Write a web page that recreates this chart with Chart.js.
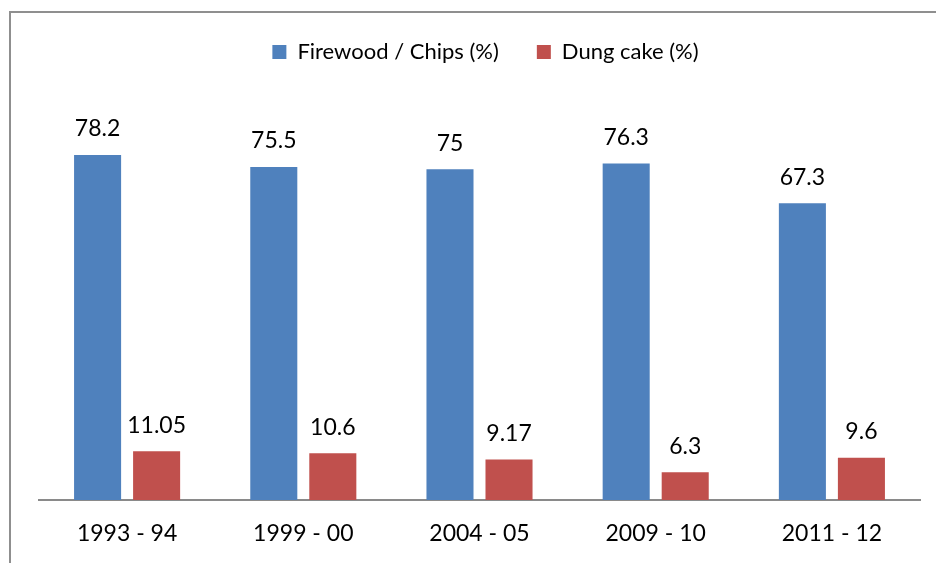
<!DOCTYPE html>
<html>
<head>
<meta charset="utf-8">
<script src="https://cdn.jsdelivr.net/npm/chart.js@4.4.1/dist/chart.umd.min.js"></script>
<style>
  html, body { margin: 0; padding: 0; background: #ffffff; }
  #wrap { width: 936px; height: 563px; position: relative; }
</style>
</head>
<body>
<div id="wrap"><canvas id="c" width="936" height="563"></canvas></div>
<script>
const categories = ["1993 - 94", "1999 - 00", "2004 - 05", "2009 - 10", "2011 - 12"];
const firewood = [78.2, 75.5, 75, 76.3, 67.3];
const dungCake = [11.05, 10.6, 9.17, 6.3, 9.6];
const seriesNames = ["Firewood / Chips (%)", "Dung cake (%)"];
const yTicksMax = 90;

const FONT = "Lato, 'Open Sans', sans-serif";

const frame = {
  id: 'frame',
  beforeDraw(chart) {
    const ctx = chart.ctx;
    ctx.save();
    ctx.strokeStyle = '#8f8f8f';
    ctx.lineWidth = 2;
    ctx.beginPath();
    ctx.moveTo(10, 570);
    ctx.lineTo(10, 12);
    ctx.lineTo(945, 12);
    ctx.stroke();
    ctx.restore();
  }
};

const legendSpace = {
  id: 'legendSpace',
  beforeInit(chart) {
    const lg = chart.legend;
    if (!lg) return;
    const origFit = lg.fit;
    lg.fit = function () {
      origFit.call(this);
      this.height += 30;
    };
  },
  afterLayout(chart) {
    const lg = chart.legend;
    if (!lg) return;
    lg.left += 6;
    lg.right += 6;
  }
};

const valueLabels = {
  id: 'valueLabels',
  afterDatasetsDraw(chart) {
    const ctx = chart.ctx;
    ctx.save();
    ctx.font = "23px " + FONT;
    ctx.fillStyle = '#000000';
    ctx.textAlign = 'center';
    ctx.textBaseline = 'middle';
    chart.data.datasets.forEach((ds, i) => {
      const meta = chart.getDatasetMeta(i);
      meta.data.forEach((bar, j) => {
        ctx.fillText(String(ds.data[j]), bar.x, bar.y - 26);
      });
    });
    ctx.restore();
  }
};

new Chart(document.getElementById('c'), {
  type: 'bar',
  data: {
    labels: categories,
    datasets: [
      { label: seriesNames[0], data: firewood, backgroundColor: '#4f81bd' },
      { label: seriesNames[1], data: dungCake, backgroundColor: '#c0504d' }
    ]
  },
  options: {
    responsive: false,
    animation: false,
    devicePixelRatio: 1,
    categoryPercentage: 0.67,
    barPercentage: 0.797,
    layout: { padding: { top: 3, left: 39, right: 16, bottom: 0 } },
    plugins: {
      legend: {
        position: 'top',
        labels: {
          boxWidth: 14,
          boxHeight: 14,
          padding: 38,
          color: '#000000',
          font: { family: FONT, size: 22 }
        }
      },
      tooltip: { enabled: false }
    },
    scales: {
      x: {
        grid: { display: false, drawTicks: false },
        border: { display: true, color: '#8a8a8a', width: 2 },
        ticks: { color: '#000000', padding: 20, font: { family: FONT, size: 23 } },
        afterFit(scale) { scale.height = 63; }
      },
      y: {
        display: false,
        min: 0,
        max: yTicksMax
      }
    }
  },
  plugins: [frame, legendSpace, valueLabels]
});
</script>
</body>
</html>
